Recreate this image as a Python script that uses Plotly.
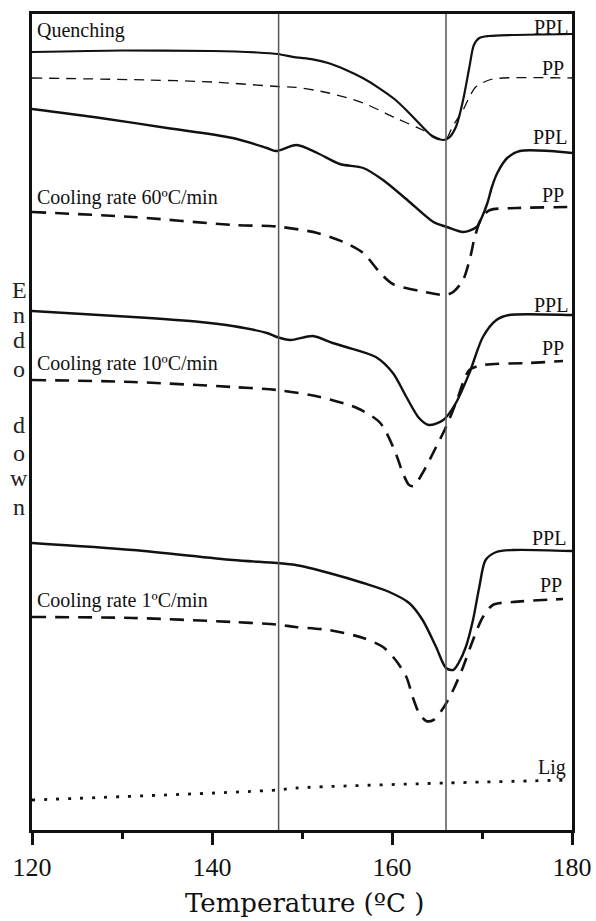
import plotly.graph_objects as go

# ---- data (temperature in °C, heat flow in arbitrary units, endo down) ----
q_ppl_t = [120, 130, 140, 145, 147.3, 149.3, 151.2, 153, 154.9, 156.8, 158.6, 160.4, 161.9, 163.4, 164.6, 165.7, 166.3, 167.1, 167.9, 168.6, 169.1, 169.7, 170.8, 173.4, 180]
q_ppl_y = [778, 779.5, 779, 777.5, 776, 772.7, 770.7, 766.7, 760, 751.7, 741.7, 730, 717, 703, 693, 690, 692, 703, 730, 763, 785, 792, 794, 795, 796]

q_pp_t = [120, 133, 140, 147.3, 149.3, 153, 156.8, 160.4, 163.4, 165.1, 166, 166.7, 167.9, 168.6, 169.3, 170.8, 172.3, 180]
q_pp_y = [752, 750, 748, 743.5, 742.7, 737, 727, 712, 700, 692, 691, 703, 720, 733, 743, 750, 752, 752]

r60_ppl_t = [120, 127.6, 135, 142.3, 146.1, 147.1, 149.4, 151.7, 154.2, 156.8, 159, 161.7, 164.6, 166.1, 167.9, 169.4, 170, 170.6, 171.1, 171.7, 172.8, 174.2, 177.6, 180]
r60_ppl_y = [721, 712, 702, 692, 682, 679, 685, 677, 666, 662, 650, 630, 608, 603, 598, 603, 613, 627, 643, 657, 672, 679, 679, 677]

r60_pp_t = [120, 131.2, 142.3, 147.2, 151.7, 154.6, 156.8, 158.7, 160.1, 163.1, 165.9, 166.8, 167.9, 168.7, 169.2, 170, 170.9, 173.9, 180]
r60_pp_y = [618, 613, 605, 603.5, 597, 588, 577, 557, 546, 539, 535, 538, 550, 573, 593, 613, 620, 622, 623]

r10_ppl_t = [120, 131.2, 138.7, 142.3, 146.1, 147.2, 148.7, 151.2, 153.4, 154.9, 158.2, 160.1, 161.6, 163, 164.1, 165.7, 167.1, 168.6, 170.1, 171.6, 173, 179.7, 180]
r10_ppl_y = [519, 513, 508, 504, 497, 493, 490, 494, 487, 483, 473, 457, 433, 412, 405, 410, 427, 457, 493, 510, 515, 515, 515]

r10_pp_t = [120, 131.2, 142.3, 147.2, 152, 156.1, 158.7, 160.4, 161.2, 161.9, 162.4, 163.4, 164.9, 166, 167.1, 168.6, 170.1, 175.2, 179]
r10_pp_y = [450, 448, 443, 440, 433, 422, 407, 377, 357, 345, 344, 357, 383, 403, 427, 460, 465, 467, 469]

r1_ppl_t = [120, 131.2, 142.3, 147.2, 149.3, 153, 156.8, 159.7, 161.9, 163.4, 164.9, 166, 166.8, 167.4, 168.2, 169, 169.7, 170.4, 171.6, 173.4, 180]
r1_ppl_y = [287, 280, 270, 267, 265, 257, 247, 238, 227, 210, 183, 162, 160, 167, 183, 210, 243, 270, 278, 280, 279]

r1_pp_t = [120, 131.2, 142.3, 147.2, 149.3, 153, 156.8, 159, 160.4, 161.6, 162.3, 163, 163.8, 164.6, 165.7, 166.8, 167.9, 169, 170.1, 171.2, 173.4, 179]
r1_pp_y = [213, 212, 208, 205.5, 203, 200, 192, 183, 170, 153, 133, 117, 109, 110, 122, 140, 163, 190, 213, 225, 228, 231]

lig_t = [120, 147.2, 149.3, 166, 179.7]
lig_y = [30, 40, 42, 47, 50]

ref_temps = [147.4, 166.0]

x_ticks = [120, 140, 160, 180]

curve_labels = [  # (text, temperature at right edge, heat flow)
    ("PPL", 179.8, 803), ("PP", 179.3, 762),
    ("PPL", 179.7, 693), ("PP", 179.3, 635),
    ("PPL", 179.8, 525), ("PP", 179.3, 482),
    ("PPL", 179.6, 292), ("PP", 179.1, 245),
    ("Lig", 179.6, 63),
]
rate_labels = [  # (text, heat flow)
    ("Quenching", 800), ("Cooling rate 60ºC/min", 633),
    ("Cooling rate 10ºC/min", 467), ("Cooling rate 1ºC/min", 230),
]
endo_letters = ["E", "n", "d", "o", "d", "o", "w", "n"]
endo_pos = [540, 515, 490, 461, 405, 377, 352, 323]

SERIF = "Liberation Serif, Times New Roman, serif"
WIDE_SERIF = "DejaVu Serif, serif"
BLACK = "#111111"

fig = go.Figure()

def add(t, y, dash, width):
    fig.add_trace(go.Scatter(x=t, y=y, mode="lines",
                             line=dict(color=BLACK, width=width, dash=dash, shape="spline", smoothing=0.8),
                             showlegend=False, hoverinfo="skip"))

add(q_ppl_t, q_ppl_y, "solid", 2.2)
add(q_pp_t, q_pp_y, "10px,7px", 1.3)
add(r60_ppl_t, r60_ppl_y, "solid", 2.4)
add(r60_pp_t, r60_pp_y, "14px,9px", 2.6)
add(r10_ppl_t, r10_ppl_y, "solid", 2.4)
add(r10_pp_t, r10_pp_y, "14px,9px", 2.6)
add(r1_ppl_t, r1_ppl_y, "solid", 2.4)
add(r1_pp_t, r1_pp_y, "14px,9px", 2.6)
add(lig_t, lig_y, "3px,9px", 2.8)

for xv in ref_temps:
    fig.add_vline(x=xv, line=dict(color="#555555", width=1.5))

for txt, xt, yv in curve_labels:
    fig.add_annotation(x=xt, y=yv, text=txt, showarrow=False, xanchor="right", yanchor="middle",
                       font=dict(family=SERIF, size=20, color=BLACK))
for txt, yv in rate_labels:
    fig.add_annotation(x=120.35, y=yv, text=txt, showarrow=False, xanchor="left", yanchor="middle",
                       font=dict(family=SERIF, size=20, color=BLACK))
for ch, yv in zip(endo_letters, endo_pos):
    fig.add_annotation(xref="paper", x=-0.024, y=yv, text=ch, showarrow=False, xanchor="center",
                       yanchor="middle", font=dict(family=SERIF, size=24, color="#222222"))

fig.add_annotation(xref="paper", yref="paper", x=0.505, y=-0.0895, text="Temperature (ºC )",
                   showarrow=False, xanchor="center", yanchor="middle",
                   font=dict(family=WIDE_SERIF, size=26, color=BLACK))

fig.update_xaxes(range=[120, 180], tickvals=x_ticks, ticks="outside", ticklen=12, tickwidth=2.5,
                 tickcolor=BLACK, showline=True, linewidth=2.5, linecolor=BLACK, mirror=True,
                 showgrid=False, zeroline=False, automargin=False,
                 tickfont=dict(family=SERIF, size=26, color=BLACK),
                 minor=dict(dtick=10, ticks="outside", ticklen=6, tickwidth=2.5, tickcolor=BLACK))
fig.update_yaxes(range=[0, 816], showticklabels=False, ticks="", showline=True, linewidth=2.5,
                 linecolor=BLACK, mirror=True, showgrid=False, zeroline=False, automargin=False)

fig.update_layout(template="none", width=596, height=921, autosize=False,
                  margin=dict(l=32, r=24, t=14, b=91, pad=0),
                  paper_bgcolor="white", plot_bgcolor="white", showlegend=False)

fig.write_html("out.html", config={"displayModeBar": False, "responsive": False},
               post_script="document.body.style.margin='0';document.body.style.overflow='hidden';")
